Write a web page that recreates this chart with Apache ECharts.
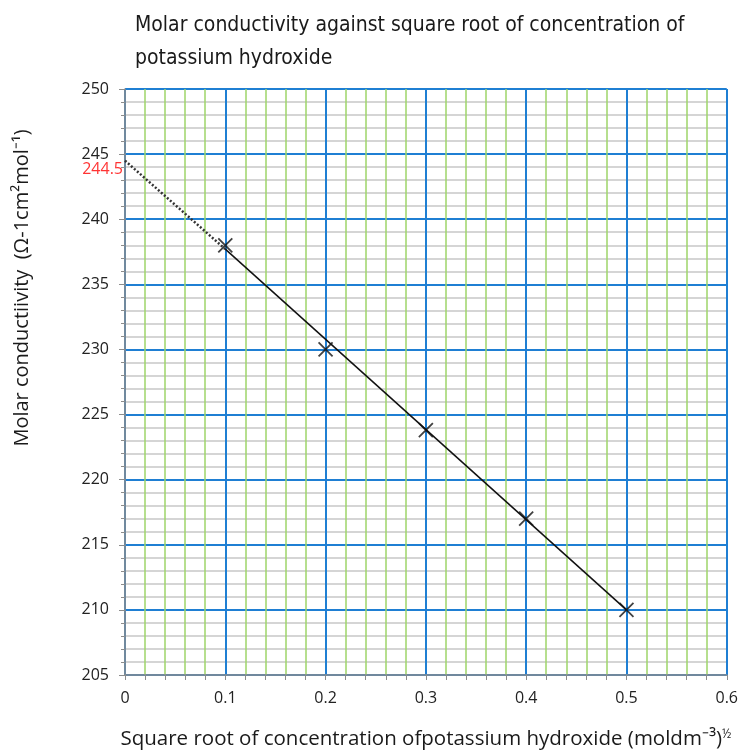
<!DOCTYPE html>
<html>
<head>
<meta charset="utf-8">
<script src="https://cdn.jsdelivr.net/npm/echarts@6/dist/echarts.min.js"></script>
<style>
html,body{margin:0;padding:0;background:#fff;}
#chart{width:741px;height:755px;}
</style>
</head>
<body>
<div id="chart"></div>
<script>
// Data
const sqrtConc = [0.1, 0.2, 0.3, 0.4, 0.5];
const molarCond = [238, 230, 223.8, 217, 210];
const fitX = [0.1, 0.5];
const fitY = [237.7, 210];
const extrapX = [0, 0.1];
const extrapY = [244.5, 237.7];
const interceptLabel = ['244.5'];
const titleText = 'Molar conductivity against square root of concentration of\npotassium hydroxide';
const xAxisTitle = 'Square root of concentration ofpotassium hydroxide (moldm\u207B\u00B3){s|\u00BD}';
const yAxisTitle = 'Molar conductiivity  (\u03A9-1cm\u00B2mol\u207B\u00B9)';

const chart = echarts.init(document.getElementById('chart'), null, {renderer: 'canvas'});
const font = 'Open Sans';

const crossPath = 'path://M0,0L10,10M10,0L0,10';

chart.setOption({
  animation: false,
  backgroundColor: '#ffffff',
  title: {
    text: titleText,
    left: 130,
    top: 4,
    textStyle: {
      fontFamily: 'DejaVu Sans Condensed',
      fontSize: 21,
      fontWeight: 'normal',
      color: '#1a1a1a',
      lineHeight: 33
    }
  },
  grid: {left: 125, right: 14, top: 89, bottom: 77, containLabel: false},
  xAxis: {
    type: 'value',
    min: 0, max: 0.6, interval: 0.1,
    name: xAxisTitle,
    nameLocation: 'middle',
    nameGap: 54,
    nameTextStyle: {
      fontFamily: font, fontSize: 20.5, color: '#1a1a1a',
      rich: {s: {fontFamily: font, fontSize: 12, color: '#1a1a1a', verticalAlign: 'top', padding: [0, 0, 8, 0]}}
    },
    axisLine: {show: true, onZero: false, lineStyle: {color: '#8c8c8c', width: 1.5}},
    axisTick: {show: true, length: 5, lineStyle: {color: '#8c8c8c'}},
    minorTick: {show: true, splitNumber: 5, length: 5, lineStyle: {color: '#8c8c8c'}},
    axisLabel: {fontFamily: font, fontSize: 16, color: '#222', margin: 15,
      formatter: v => String(Math.round(v * 10) / 10)},
    splitLine: {show: true, lineStyle: {color: '#1f7fd3', width: 2}},
    minorSplitLine: {show: true, lineStyle: {color: '#9fd56a', width: 1.5}}
  },
  yAxis: {
    type: 'value',
    min: 205, max: 250, interval: 5,
    axisLine: {show: true, lineStyle: {color: '#8c8c8c', width: 1.5}},
    axisTick: {show: true, length: 6, lineStyle: {color: '#8c8c8c'}},
    minorTick: {show: true, splitNumber: 5, length: 4, lineStyle: {color: '#8c8c8c'}},
    axisLabel: {fontFamily: font, fontSize: 16, color: '#222', margin: 16},
    splitLine: {show: true, lineStyle: {color: '#1f7fd3', width: 2}},
    minorSplitLine: {show: true, lineStyle: {color: '#c8c8c8', width: 1.5}}
  },
  graphic: [{
    type: 'text',
    x: 22, y: 288,
    rotation: Math.PI / 2,
    style: {
      text: yAxisTitle,
      fontFamily: font,
      fontSize: 20,
      fill: '#1a1a1a',
      textAlign: 'center',
      textVerticalAlign: 'middle'
    }
  }],
  series: [
    {
      type: 'line',
      data: fitX.map((x, i) => [x, fitY[i]]),
      showSymbol: false,
      lineStyle: {color: '#111', width: 1.5},
      z: 5
    },
    {
      type: 'line',
      data: extrapX.map((x, i) => [x, extrapY[i]]),
      showSymbol: false,
      lineStyle: {color: '#333', width: 2.5, type: [2, 2]},
      z: 5
    },
    {
      type: 'scatter',
      data: sqrtConc.map((x, i) => [x, molarCond[i]]),
      symbol: crossPath,
      symbolSize: 14,
      itemStyle: {color: 'rgba(0,0,0,0)', borderColor: '#111', borderWidth: 1.8},
      z: 6
    },
    {
      type: 'scatter',
      data: [[extrapX[0], extrapY[0]]],
      symbolSize: 0,
      label: {
        show: true,
        position: 'left',
        distance: 2,
        offset: [0, 9],
        formatter: interceptLabel[0],
        fontFamily: font,
        fontSize: 16,
        color: '#ff0000'
      },
      z: 7
    }
  ]
});
</script>
</body>
</html>
